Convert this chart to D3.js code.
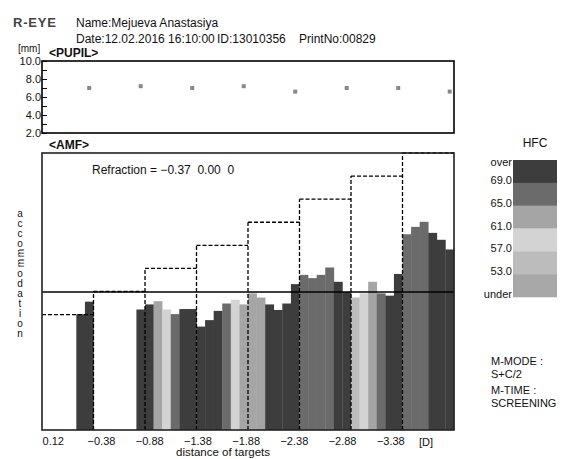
<!DOCTYPE html>
<html>
<head>
<meta charset="utf-8">
<script src="https://cdn.jsdelivr.net/npm/d3@7"></script>
<style>
  body { margin: 0; background: #fff; }
  svg text { font-family: "Liberation Sans", Arial, sans-serif; fill: #111; }
</style>
</head>
<body>
<div id="chart"></div>
<script>
// targets (diopters) and measurements
var targets = ["0.12", "-0.38", "-0.88", "-1.38", "-1.88", "-2.38", "-2.88", "-3.38"];
var targetValues = [0.12, -0.38, -0.88, -1.38, -1.88, -2.38, -2.88, -3.38];

// pupil diameter [mm], one per target
var pupil = [7.0, 7.2, 7.0, 7.2, 6.6, 7.0, 7.0, 6.6];

// accommodation [D], 6 samples per target (null = no measure)
var accommodation = [
  null, null, null, null, -0.11, 0.16,
  null, null, null, null, null, -0.01,
  0.10, 0.17, -0.01, -0.11, 0.00, 0.00,
  -0.38, -0.24, -0.04, 0.12, 0.20, 0.10,
  0.34, 0.25, 0.10, -0.02, 0.12, 0.54,
  0.74, 0.67, 0.74, 0.90, 0.59, 0.37,
  0.25, 0.34, 0.59, 0.34, 0.29, 0.76,
  1.62, 1.78, 1.89, 1.65, 1.50, 1.29
];

// high frequency component for each sample
var hfc = [
  0, 0, 0, 0, 72, 72,
  0, 0, 0, 0, 0, 72,
  72, 63, 59, 67, 72, 72,
  72, 72, 72, 67, 59, 63,
  63, 63, 72, 72, 72, 72,
  67, 67, 67, 67, 72, 72,
  55, 59, 63, 67, 72, 72,
  67, 67, 67, 72, 72, 72
];

var hfcThresholds = [53, 57, 61, 65, 69];
var hfcColors = ["#a8a8a8", "#bcbcbc", "#d3d3d3", "#a5a5a5", "#6b6b6b", "#3d3d3d"];
var legendLabels = ["over", "69.0", "65.0", "61.0", "57.0", "53.0", "under"];

var refraction = -0.37;

var width = 565, height = 459;
var box = {left: 42, right: 454};
var pupilBox = {top: 61, bottom: 133};
var amfBox = {top: 153, bottom: 430};

var svg = d3.select("#chart").append("svg")
  .attr("width", width)
  .attr("height", height);

// header
svg.append("text").attr("x", 13).attr("y", 27)
  .style("font-size", "13px").style("font-weight", "bold").style("fill", "#444")
  .style("letter-spacing", "0.8px")
  .text("R-EYE");
svg.append("text").attr("x", 76).attr("y", 27).style("font-size", "12px")
  .text("Name:Mejueva Anastasiya");
svg.append("text").attr("x", 76).attr("y", 43).style("font-size", "12px")
  .text("Date:12.02.2016 16:10:00");
svg.append("text").attr("x", 217).attr("y", 43).style("font-size", "12px")
  .text("ID:13010356");
svg.append("text").attr("x", 299).attr("y", 43).style("font-size", "12px")
  .text("PrintNo:00829");

//-------------------------------------------------------------------
// pupil panel
var xBar = d3.scaleBand().domain(d3.range(accommodation.length)).range([box.left, box.right]);
var xSeg = d3.scaleBand().domain(targets).range([box.left, box.right]);
var yPupil = d3.scaleLinear().domain([2, 10]).range([pupilBox.bottom, pupilBox.top]);

svg.append("text").attr("x", 18).attr("y", 52).style("font-size", "10px").text("[mm]");
svg.append("text").attr("x", 49).attr("y", 57)
  .style("font-size", "12px").style("font-weight", "bold").text("<PUPIL>");

var pAxis = svg.append("g")
  .attr("transform", "translate(" + box.left + ",0)")
  .call(d3.axisRight(yPupil).tickValues(d3.range(2, 11)).tickSize(5).tickFormat(""));
pAxis.select(".domain").remove();
pAxis.selectAll("line").attr("stroke", "#000");

svg.selectAll(".plabel")
  .data(d3.range(2, 11, 2))
  .enter().append("text")
  .attr("x", box.left - 1)
  .attr("y", function(d) { return yPupil(d) + 4; })
  .attr("text-anchor", "end")
  .style("font-size", "11px")
  .text(d3.format(".1f"));

svg.append("rect")
  .attr("x", box.left).attr("y", pupilBox.top)
  .attr("width", box.right - box.left).attr("height", pupilBox.bottom - pupilBox.top)
  .attr("fill", "none").attr("stroke", "#000").attr("stroke-width", 1.6);

svg.selectAll(".pupil")
  .data(pupil)
  .enter().append("rect")
  .attr("x", function(d, i) { return xBar(i * 6 + 5) + xBar.bandwidth() / 2 - 2; })
  .attr("y", function(d) { return yPupil(d) - 2; })
  .attr("width", 4).attr("height", 4)
  .attr("fill", "#888");

//-------------------------------------------------------------------
// AMF panel
var yAmf = d3.scaleLinear().domain([-2.62, 3.38]).range([amfBox.bottom, amfBox.top]);
var color = d3.scaleThreshold().domain(hfcThresholds).range(hfcColors);

svg.append("text").attr("x", 49).attr("y", 149)
  .style("font-size", "12px").style("font-weight", "bold").text("<AMF>");

svg.append("text").attr("x", 92).attr("y", 174).style("font-size", "12px")
  .text("Refraction = " + d3.format(".2f")(refraction).replace("-", "\u2212") + "  0.00  0")
  .style("white-space", "pre");

var samples = accommodation
  .map(function(v, i) { return {i: i, v: v, hfc: hfc[i]}; })
  .filter(function(d) { return d.v !== null; });

svg.selectAll(".bar")
  .data(samples)
  .enter().append("rect")
  .attr("x", function(d) { return xBar(d.i); })
  .attr("y", function(d) { return yAmf(d.v); })
  .attr("width", xBar.bandwidth() + 0.3)
  .attr("height", function(d) { return amfBox.bottom - yAmf(d.v); })
  .attr("fill", function(d) { return color(d.hfc); });

// stimulus staircase (dashed)
var dash = svg.append("g")
  .attr("fill", "none").attr("stroke", "#000")
  .attr("stroke-width", 1.3).attr("stroke-dasharray", "4,2");
targets.forEach(function(t, i) {
  var lvl = yAmf(-targetValues[i]);
  dash.append("line")
    .attr("x1", xSeg(t)).attr("x2", xSeg(t) + xSeg.bandwidth())
    .attr("y1", lvl).attr("y2", lvl);
  if (i > 0) {
    dash.append("line")
      .attr("x1", xSeg(t)).attr("x2", xSeg(t))
      .attr("y1", amfBox.bottom).attr("y2", lvl);
  }
});

// refraction line
svg.append("line")
  .attr("x1", box.left).attr("x2", box.right)
  .attr("y1", yAmf(-refraction)).attr("y2", yAmf(-refraction))
  .attr("stroke", "#000").attr("stroke-width", 1.4);

svg.append("rect")
  .attr("x", box.left).attr("y", amfBox.top)
  .attr("width", box.right - box.left).attr("height", amfBox.bottom - amfBox.top)
  .attr("fill", "none").attr("stroke", "#222").attr("stroke-width", 1.6);

// x labels
var xLabel = d3.scalePoint().domain(targets).range([53.3, 390.8]);
svg.selectAll(".xlabel")
  .data(targets)
  .enter().append("text")
  .attr("x", function(d) { return xLabel(d); })
  .attr("y", 445)
  .attr("text-anchor", "middle")
  .style("font-size", "11px")
  .text(function(d) { return d.replace("-", "\u2212"); });

svg.append("text").attr("x", 426).attr("y", 446).attr("text-anchor", "middle")
  .style("font-size", "11px").text("[D]");
svg.append("text").attr("x", 223).attr("y", 456).attr("text-anchor", "middle")
  .style("font-size", "11.5px").text("distance of targets");

// y label, stacked letters
var yLetters = "accommodation".split("");
var yLab = d3.scalePoint().domain(d3.range(yLetters.length)).range([213, 333]);
svg.selectAll(".ylab")
  .data(yLetters)
  .enter().append("text")
  .attr("transform", function(d, i) {
    var t = "translate(20," + yLab(i) + ")";
    return d === "m" ? t + " rotate(-90)" : t;
  })
  .attr("text-anchor", "middle")
  .attr("dy", "0.35em")
  .style("font-size", "10px")
  .text(function(d) { return d; });

//-------------------------------------------------------------------
// HFC legend
var legend = {left: 513, right: 557, top: 160, bottom: 297};
var yLeg = d3.scaleLinear().domain([0, hfcColors.length]).range([legend.top, legend.bottom]);

svg.append("text").attr("x", 535).attr("y", 147).attr("text-anchor", "middle")
  .style("font-size", "12px").text("HFC");

svg.selectAll(".leg")
  .data(hfcColors.slice().reverse())
  .enter().append("rect")
  .attr("x", legend.left)
  .attr("y", function(d, i) { return yLeg(i); })
  .attr("width", legend.right - legend.left)
  .attr("height", yLeg(1) - yLeg(0) + 0.3)
  .attr("fill", function(d) { return d; });

svg.selectAll(".leglabel")
  .data(legendLabels)
  .enter().append("text")
  .attr("x", legend.left - 1)
  .attr("y", function(d, i) { return i === 0 ? yLeg(0) + 6 : yLeg(i) + 1; })
  .attr("text-anchor", "end")
  .style("font-size", "11px")
  .text(function(d) { return d; });

// mode text
var modeLines = ["M-MODE :", "S+C/2", "M-TIME :", "SCREENING"];
var modeY = [365, 378, 394, 407];
svg.selectAll(".mode")
  .data(modeLines)
  .enter().append("text")
  .attr("x", 491)
  .attr("y", function(d, i) { return modeY[i]; })
  .style("font-size", "11px")
  .text(function(d) { return d; });
</script>
</body>
</html>
